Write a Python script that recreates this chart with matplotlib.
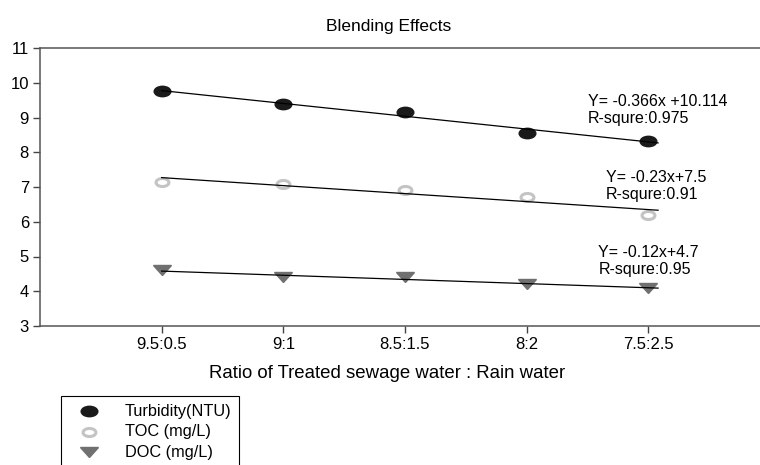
import numpy as np
import matplotlib
matplotlib.use("Agg")
import matplotlib.pyplot as plt
from matplotlib.markers import MarkerStyle
from matplotlib.transforms import Affine2D
from matplotlib.patches import Rectangle
from matplotlib.lines import Line2D

plt.rcParams['font.family'] = ['Liberation Sans', 'DejaVu Sans']

# Data
ratios = ['9.5:0.5', '9:1', '8.5:1.5', '8:2', '7.5:2.5']
turbidity = [9.75, 9.4, 9.15, 8.55, 8.33]
toc = [7.15, 7.1, 6.9, 6.7, 6.2]
doc = [4.6, 4.4, 4.4, 4.2, 4.1]

series_names = ['Turbidity(NTU)', 'TOC (mg/L)', 'DOC (mg/L)']
eq_labels = ['Y= -0.366x +10.114\nR-squre:0.975',
             'Y= -0.23x+7.5\nR-squre:0.91',
             'Y= -0.12x+4.7\nR-squre:0.95']

x = np.arange(1, len(ratios) + 1)

fig = plt.figure(figsize=(7.6, 4.65), dpi=100)
ax = fig.add_axes([40 / 760, 1 - 326 / 465, 730 / 760, 278 / 465])

oval = Affine2D().scale(1.6, 1.0)
styles = [
    dict(marker=MarkerStyle('o', transform=oval), markersize=7.5,
         color='#1a1a1a'),
    dict(marker=MarkerStyle('o', transform=oval), markersize=5.8,
         markerfacecolor='white', markeredgecolor='#c4c4c4',
         markeredgewidth=2.2),
    dict(marker=MarkerStyle('v', transform=Affine2D().scale(1.7, 1.0)),
         markersize=7.5, color='#707070'),
]

for series, st in zip((turbidity, toc, doc), styles):
    ax.plot(x, series, linestyle='none', zorder=3, **st)

# linear trend lines
xs = np.array([1.0, 5.08])
for series in (turbidity, toc, doc):
    a, b = np.polyfit(x, series, 1)
    ax.plot(xs, a * xs + b, color='black', lw=0.9, zorder=4)

# equation labels
ax.text(4.50, 9.68, eq_labels[0], fontsize=11.5, va='top', linespacing=1.2)
ax.text(4.65, 7.49, eq_labels[1], fontsize=11.5, va='top', linespacing=1.2)
ax.text(4.59, 5.33, eq_labels[2], fontsize=11.5, va='top', linespacing=1.2)

ax.set_xlim(0, 6)
ax.set_ylim(3, 11)
ax.set_yticks(range(3, 12))
ax.set_xticks(x)
ax.set_xticklabels(ratios)
ax.tick_params(labelsize=12, length=5, width=1.0, color='#444444', pad=3)

for side in ('left', 'bottom', 'top'):
    ax.spines[side].set_color('#555555')
    ax.spines[side].set_linewidth(1.1)
ax.spines['right'].set_visible(False)

fig.text(389 / 760, 1 - 27 / 465, 'Blending Effects', fontsize=12.5,
         ha='center', va='center')
fig.text(387 / 760, 1 - 373 / 465, 'Ratio of Treated sewage water : Rain water',
         fontsize=13.4, ha='center', va='center')

# legend box (runs off the bottom of the figure, as in the original)
fig.patches.append(Rectangle((61 / 760, -0.05), 178 / 760, 1 - 396 / 465 + 0.05,
                             transform=fig.transFigure, fill=False,
                             edgecolor='black', linewidth=0.8))
for i, (name, st) in enumerate(zip(series_names, styles)):
    yy = 1 - (411 + 20.5 * i) / 465
    fig.add_artist(Line2D([89 / 760], [yy], transform=fig.transFigure,
                          linestyle='none', **st))
    fig.text(125 / 760, yy, name, fontsize=11.7, va='center', ha='left')

fig.savefig('out.png', dpi=100)
